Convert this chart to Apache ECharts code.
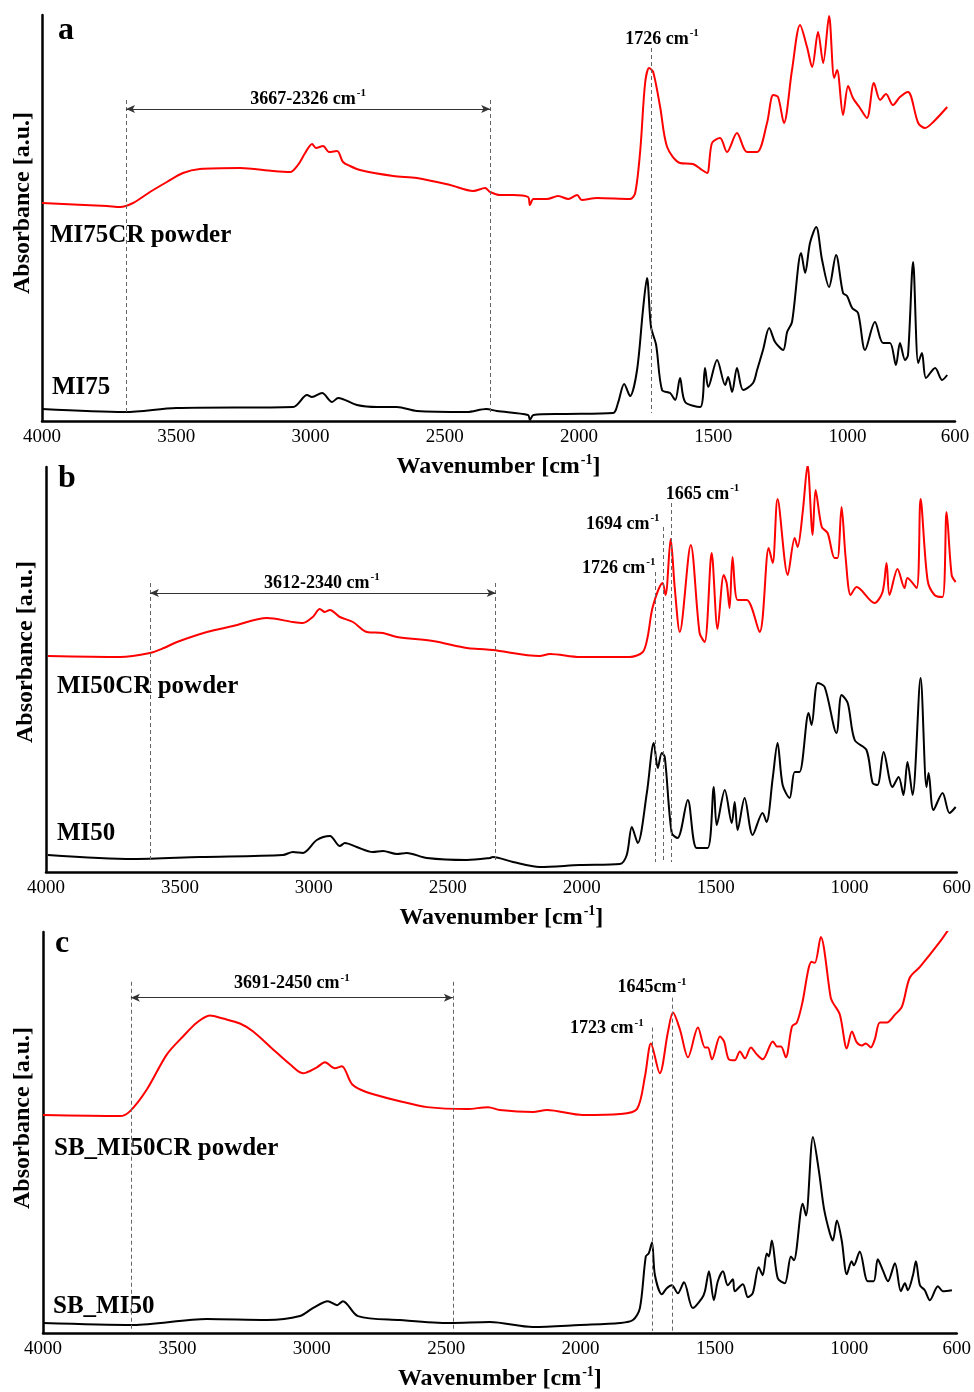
<!DOCTYPE html>
<html>
<head>
<meta charset="utf-8">
<script src="https://cdn.jsdelivr.net/npm/echarts@6/dist/echarts.min.js"></script>
<style>
  html, body { margin: 0; padding: 0; background: #fff; }
  #main { width: 974px; height: 1392px; }
</style>
</head>
<body>
<div id="main"></div>
<script>
// wavenumber ticks shown on every panel
let tickLabels = [4000, 3500, 3000, 2500, 2000, 1500, 1000, 600];

// panel a : MI75CR powder (red) / MI75 (black)
let aRedWn = [4000, 3758, 3709, 3661, 3598, 3535, 3475, 3412, 3263, 3140, 3076, 3047, 3020, 2994, 2980, 2953, 2931, 2901, 2879, 2853, 2816, 2692, 2604, 2480, 2394, 2350, 2331, 2294, 2246, 2190, 2183, 2170, 2119, 2078, 2040, 2007, 1990, 1933, 1810, 1791, 1772, 1754, 1739, 1724, 1698, 1672, 1624, 1576, 1542, 1523, 1505, 1475, 1449, 1412, 1375, 1337, 1300, 1277, 1259, 1237, 1207, 1177, 1151, 1132, 1110, 1091, 1069, 1050, 1039, 1017, 998, 980, 954, 928, 902, 879, 857, 831, 805, 775, 737, 711, 681, 629];
let aRedAbs = [218, 215, 214, 218, 229, 239, 248, 252, 253, 250, 249, 256, 268, 277, 273, 275, 269, 270, 259, 255, 251, 245, 243, 236, 230, 233, 229, 226, 226, 224, 216, 222, 222, 225, 222, 226, 221, 223, 222, 228, 271, 338, 353, 349, 314, 274, 258, 257, 251, 248, 278, 283, 269, 288, 269, 269, 298, 326, 324, 298, 351, 396, 374, 354, 389, 358, 405, 343, 351, 306, 335, 323, 313, 303, 338, 321, 327, 316, 324, 329, 298, 293, 299, 314];
let aBlkWn = [4000, 3691, 3500, 3065, 3013, 2995, 2957, 2920, 2897, 2827, 2752, 2678, 2604, 2417, 2346, 2306, 2190, 2183, 2170, 2060, 1873, 1855, 1832, 1810, 1784, 1762, 1747, 1732, 1713, 1691, 1661, 1642, 1624, 1605, 1549, 1531, 1519, 1486, 1456, 1445, 1430, 1412, 1389, 1352, 1337, 1315, 1292, 1270, 1240, 1225, 1207, 1173, 1158, 1140, 1117, 1095, 1069, 1043, 1017, 1002, 983, 961, 935, 898, 868, 842, 820, 805, 786, 775, 756, 737, 723, 708, 674, 648, 629];
let aBlkAbs = [12, 9, 13, 14, 26, 24, 28, 19, 23, 16, 14, 14, 10, 9, 12, 10, 6, 1, 6, 7, 8, 18, 37, 25, 51, 111, 143, 94, 76, 31, 28, 21, 43, 19, 14, 53, 34, 61, 36, 44, 29, 53, 31, 38, 51, 71, 93, 79, 71, 89, 99, 168, 148, 178, 194, 161, 134, 166, 128, 125, 113, 108, 71, 99, 78, 78, 56, 78, 61, 66, 159, 58, 68, 43, 53, 41, 46];

// panel b : MI50CR powder (red) / MI50 (black)
let bRedWn = [3993, 3724, 3612, 3560, 3511, 3399, 3302, 3175, 3078, 3041, 3004, 2978, 2959, 2940, 2903, 2854, 2802, 2742, 2690, 2556, 2429, 2381, 2332, 2157, 2119, 2007, 1821, 1772, 1754, 1735, 1698, 1687, 1668, 1653, 1634, 1593, 1560, 1541, 1515, 1493, 1470, 1459, 1448, 1437, 1418, 1384, 1336, 1302, 1287, 1269, 1231, 1205, 1194, 1175, 1157, 1138, 1127, 1104, 1082, 1056, 1045, 1030, 1015, 996, 974, 907, 877, 862, 851, 821, 795, 784, 750, 735, 709, 683, 653, 638, 619, 604];
let bRedAbs = [216, 215, 219, 224, 230, 240, 246, 254, 250, 249, 255, 263, 260, 262, 255, 250, 240, 239, 235, 231, 224, 223, 222, 216, 218, 215, 215, 220, 235, 265, 289, 277, 333, 285, 240, 327, 239, 230, 319, 243, 297, 289, 264, 315, 272, 272, 240, 324, 309, 373, 297, 334, 325, 360, 407, 337, 382, 345, 339, 314, 314, 365, 315, 277, 285, 269, 280, 309, 277, 303, 284, 294, 284, 373, 292, 277, 275, 360, 297, 290];
let bBlkWn = [3993, 3675, 3425, 3116, 3078, 3041, 2989, 2940, 2903, 2884, 2840, 2780, 2742, 2690, 2653, 2578, 2429, 2343, 2332, 2257, 2157, 2007, 1858, 1832, 1813, 1791, 1757, 1731, 1716, 1701, 1690, 1664, 1642, 1604, 1571, 1530, 1507, 1496, 1466, 1440, 1429, 1418, 1392, 1362, 1325, 1310, 1287, 1269, 1250, 1224, 1205, 1187, 1153, 1142, 1119, 1093, 1049, 1030, 1007, 981, 937, 914, 896, 873, 840, 817, 799, 784, 765, 735, 713, 705, 687, 653, 627, 604];
let bBlkAbs = [17, 13, 15, 17, 20, 19, 32, 36, 26, 29, 25, 20, 21, 18, 19, 14, 12, 14, 15, 10, 5, 7, 8, 17, 45, 29, 79, 129, 104, 119, 115, 39, 34, 72, 24, 24, 85, 47, 82, 49, 70, 42, 74, 37, 59, 50, 94, 129, 87, 74, 100, 100, 159, 147, 189, 185, 139, 177, 169, 132, 122, 89, 87, 120, 85, 95, 77, 110, 77, 194, 85, 99, 62, 79, 59, 65];

// panel c : SB_MI50CR powder (red) / SB_MI50 (black)
let cRedWn = [4000, 3714, 3676, 3613, 3539, 3479, 3427, 3379, 3330, 3267, 3218, 3144, 3081, 3033, 2981, 2951, 2914, 2888, 2850, 2795, 2672, 2571, 2423, 2344, 2300, 2177, 2125, 1991, 1853, 1790, 1760, 1738, 1705, 1675, 1656, 1630, 1600, 1563, 1537, 1526, 1511, 1481, 1466, 1448, 1426, 1407, 1388, 1366, 1344, 1322, 1284, 1269, 1254, 1236, 1213, 1195, 1176, 1140, 1128, 1106, 1069, 1061, 1035, 1009, 990, 972, 953, 938, 920, 905, 886, 860, 830, 804, 775, 737, 663, 622];
let cRedAbs = [219, 218, 223, 245, 280, 298, 312, 319, 316, 311, 303, 285, 270, 261, 267, 272, 266, 268, 250, 242, 233, 227, 225, 227, 224, 222, 224, 219, 220, 225, 258, 291, 261, 302, 322, 305, 277, 307, 287, 287, 275, 298, 293, 275, 274, 283, 276, 287, 280, 275, 293, 288, 288, 277, 308, 312, 330, 373, 372, 398, 337, 332, 320, 286, 303, 292, 289, 291, 287, 295, 312, 312, 320, 328, 357, 368, 393, 409];
let cBlkWn = [4000, 3665, 3390, 3167, 3044, 2996, 2940, 2906, 2884, 2828, 2672, 2486, 2337, 2177, 2002, 1853, 1805, 1779, 1757, 1746, 1734, 1723, 1697, 1679, 1660, 1638, 1615, 1582, 1548, 1537, 1522, 1504, 1489, 1470, 1452, 1433, 1426, 1396, 1377, 1359, 1337, 1322, 1307, 1299, 1288, 1266, 1240, 1217, 1206, 1173, 1161, 1135, 1113, 1094, 1072, 1061, 1046, 1028, 1009, 991, 983, 961, 931, 909, 894, 875, 856, 830, 808, 793, 782, 763, 752, 737, 719, 700, 670, 652, 618];
let cBlkAbs = [10, 8, 14, 13, 17, 25, 32, 28, 32, 17, 13, 10, 11, 6, 8, 10, 13, 25, 77, 80, 91, 58, 39, 45, 48, 40, 51, 25, 35, 42, 62, 33, 52, 62, 48, 54, 42, 49, 36, 40, 66, 58, 80, 77, 93, 55, 50, 77, 73, 130, 118, 197, 163, 125, 100, 93, 113, 93, 59, 72, 68, 82, 52, 52, 74, 63, 52, 70, 42, 50, 43, 58, 72, 48, 43, 33, 47, 42, 43];

// annotation positions (wavenumber)
let aRange = [3687, 2331];
let aPeaks = [1731];
let bRange = [3612, 2321];
let bPeaks = [1724, 1694, 1665];
let cRange = [3673, 2475];
let cPeaks = [1734, 1660];

let chartDom = document.getElementById('main');
let myChart = echarts.init(chartDom);

const serif = "'Liberation Serif', 'Times New Roman', serif";

function zip(xs, ys) {
	return xs.map((x, i) => [x, ys[i]]);
}

function lblRich(size) {
	return {
		t: { fontFamily: serif, fontWeight: 'bold', fontSize: size, color: '#000', lineHeight: size + 2, verticalAlign: 'bottom' },
		s: { fontFamily: serif, fontWeight: 'bold', fontSize: Math.round(size * 0.6), color: '#000', lineHeight: size + 2, verticalAlign: 'top', padding: [0, 0, 0, 1] }
	};
}

// dashed markers, double arrow and texts for one panel
function annotations(range, rangeTop, arrowY, peaks, peakTops, peakBottom, texts) {
	let lines = [];
	for (let wn of range) {
		lines.push([{ coord: [wn, rangeTop] }, { coord: [wn, peakBottom] }]);
	}
	peaks.forEach((wn, i) => {
		lines.push([{ coord: [wn, peakTops[i]] }, { coord: [wn, peakBottom] }]);
	});
	let arrowStyle = { type: 'solid', color: '#333', width: 1 };
	lines.push([
		{ coord: [range[0], arrowY], symbol: 'arrow', symbolSize: [6, 9], lineStyle: arrowStyle },
		{ coord: [range[1], arrowY], symbol: 'arrow', symbolSize: [6, 9], lineStyle: arrowStyle }
	]);
	return {
		markLine: {
			silent: true,
			symbol: 'none',
			label: { show: false },
			lineStyle: { type: [4, 3], color: '#666', width: 1 },
			emphasis: { disabled: true },
			data: lines
		},
		markPoint: {
			silent: true,
			symbol: 'rect',
			symbolSize: 1,
			itemStyle: { color: 'rgba(0,0,0,0)' },
			label: {
				show: true,
				position: 'inside',
				formatter: (p) => '{t|' + p.name + '}{s|-1}',
				rich: lblRich(18)
			},
			data: texts.map((t) => ({ name: t[0], coord: [t[1], t[2]] }))
		}
	};
}

let grids = [
	{ left: 42, width: 913, top: 15, height: 406 },
	{ left: 46, width: 911, top: 467, height: 405 },
	{ left: 43, width: 914, top: 932, height: 403 }
];

let xAxes = grids.map((g, i) => ({
	gridIndex: i,
	type: 'value',
	inverse: true,
	min: 600,
	max: 4000,
	name: '{t|Wavenumber [cm}{s|-1}{t|]}',
	nameLocation: 'middle',
	nameGap: 32,
	nameTextStyle: { rich: lblRich(24) },
	axisLine: { onZero: false, lineStyle: { color: '#000', width: 2.5 } },
	axisTick: { show: false },
	splitLine: { show: false },
	axisLabel: {
		customValues: tickLabels,
		formatter: (v) => String(v),
		margin: 7,
		fontFamily: serif,
		fontSize: 19,
		color: '#000'
	}
}));

let yAxes = grids.map((g, i) => ({
	gridIndex: i,
	type: 'value',
	min: 0,
	max: g.height,
	axisLine: { show: true, lineStyle: { color: '#000', width: 2.5 } },
	axisTick: { show: false },
	axisLabel: { show: false },
	splitLine: { show: false }
}));

function lineSeries(idx, data, color) {
	return {
		type: 'line',
		xAxisIndex: idx,
		yAxisIndex: idx,
		data: data,
		showSymbol: false,
		symbol: 'none',
		smooth: 0.3,
		lineStyle: { color: color, width: 2 },
		z: 3
	};
}

let seriesList = [
	lineSeries(0, zip(aRedWn, aRedAbs), '#ff0000'),
	Object.assign(lineSeries(0, zip(aBlkWn, aBlkAbs), '#000'),
		annotations(aRange, 321, 312, aPeaks, [373], 8, [
			['3667-2326 cm', 3009, 323],
			['1726 cm', 1691, 383]
		])),
	lineSeries(1, zip(bRedWn, bRedAbs), '#ff0000'),
	Object.assign(lineSeries(1, zip(bBlkWn, bBlkAbs), '#000'),
		annotations(bRange, 289, 279, bPeaks, [300, 345, 369], 10, [
			['3612-2340 cm', 2970, 290],
			['1726 cm', 1862, 305],
			['1694 cm', 1847, 349],
			['1665 cm', 1549, 379]
		])),
	lineSeries(2, zip(cRedWn, cRedAbs), '#ff0000'),
	Object.assign(lineSeries(2, zip(cBlkWn, cBlkAbs), '#000'),
		annotations(cRange, 353, 337, cPeaks, [307, 337], 2, [
			['3691-2450 cm', 3074, 352],
			['1723 cm', 1902, 307],
			['1645cm', 1734, 348]
		]))
];

function txt(text, x, y, size, align) {
	return {
		type: 'text',
		x: x,
		y: y,
		style: {
			text: text,
			fontFamily: serif,
			fontWeight: 'bold',
			fontSize: size,
			fill: '#000',
			align: align || 'left',
			verticalAlign: 'middle'
		}
	};
}

function yTitle(x, y) {
	let t = txt('Absorbance [a.u.]', x, y, 24, 'center');
	t.rotation = Math.PI / 2;
	return t;
}

option = {
	animation: false,
	backgroundColor: '#fff',
	grid: grids,
	xAxis: xAxes,
	yAxis: yAxes,
	series: seriesList,
	graphic: [
		txt('a', 58, 31, 32),
		txt('b', 58, 479, 32),
		txt('c', 55, 944, 32),
		txt('MI75CR powder', 50, 236, 25),
		txt('MI75', 52, 388, 25),
		txt('MI50CR powder', 57, 687, 25),
		txt('MI50', 57, 834, 25),
		txt('SB_MI50CR powder', 54, 1149, 25),
		txt('SB_MI50', 53, 1307, 25),
		yTitle(23, 203),
		yTitle(26, 652),
		yTitle(23, 1118)
	]
};

myChart.setOption(option);
</script>
</body>
</html>
